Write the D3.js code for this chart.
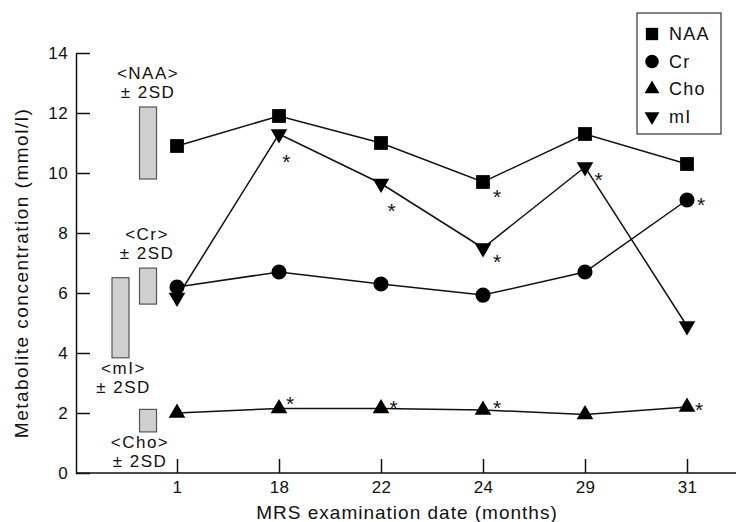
<!DOCTYPE html>
<html>
<head>
<meta charset="utf-8">
<script src="https://cdn.jsdelivr.net/npm/d3@7"></script>
<style>
  body { margin: 0; background: #fff; }
  svg { display: block; font-family: "Liberation Sans", Arial, Helvetica, sans-serif; }
</style>
</head>
<body>
<script>
// data
const months = ["1", "18", "22", "24", "29", "31"];
const naa = [10.9, 11.9, 11.0, 9.7, 11.3, 10.3];
const cr = [6.2, 6.7, 6.3, 5.93, 6.7, 9.1];
const cho = [2.0, 2.15, 2.15, 2.1, 1.95, 2.2];
const mi = [5.85, 11.3, 9.65, 7.5, 10.2, 4.9];
// significant points (asterisk)
const naaSig = [0, 0, 0, 1, 0, 0];
const crSig = [0, 0, 0, 0, 0, 1];
const choSig = [0, 1, 1, 1, 0, 1];
const miSig = [0, 1, 1, 1, 1, 0];
// normal ranges, mean +/- 2SD
const refNames = ["NAA", "Cr", "mI", "Cho"];
const refLow = [9.8, 5.63, 3.84, 1.37];
const refHigh = [12.2, 6.83, 6.51, 2.12];
const yTicks = [0, 2, 4, 6, 8, 10, 12, 14];

const W = 736, H = 522;
const svg = d3.select("body").append("svg").attr("width", W).attr("height", H);

const x = d3.scalePoint().domain(months).range([177, 687]);
const y = d3.scaleLinear().domain([0, 14]).range([473, 53]);
const step = x.step();
const ink = "#111";

// y axis, ticks pointing inward
const yAxis = svg.append("g")
  .attr("transform", "translate(76,0)")
  .call(d3.axisLeft(y).tickValues(yTicks).tickSizeInner(-14).tickSizeOuter(0).tickPadding(8));
yAxis.select(".domain").attr("stroke", ink).attr("stroke-width", 1.5);
yAxis.selectAll(".tick line").attr("stroke", ink).attr("stroke-width", 1.5);
yAxis.selectAll(".tick text").attr("font-size", 17).attr("letter-spacing", 0.4)
  .attr("font-family", null).attr("fill", ink);

// x axis
const xAxis = svg.append("g")
  .attr("transform", `translate(0,${y(0)})`)
  .call(d3.axisBottom(x).tickSizeInner(-14).tickSizeOuter(0).tickPadding(20));
xAxis.select(".domain").remove();
xAxis.append("line").attr("x1", 76).attr("x2", 736).attr("stroke", ink).attr("stroke-width", 1.5);
xAxis.selectAll(".tick line").attr("stroke", ink).attr("stroke-width", 1.5);
xAxis.selectAll(".tick text").attr("font-size", 17).attr("letter-spacing", 0.4)
  .attr("font-family", null).attr("fill", ink).attr("dy", "0");

// axis titles
svg.append("text")
  .attr("x", 407).attr("y", 519)
  .attr("text-anchor", "middle").attr("font-size", 19).attr("letter-spacing", 1)
  .attr("fill", ink)
  .text("MRS examination date (months)");
svg.append("text")
  .attr("transform", "translate(28,273) rotate(-90)")
  .attr("text-anchor", "middle").attr("font-size", 19).attr("letter-spacing", 1.5)
  .attr("fill", ink)
  .text("Metabolite concentration (mmol/l)");

// normal range boxes (position in category steps left of month 1)
const boxPos = [-0.284, -0.284, -0.554, -0.284];
const labelAbove = [true, true, false, false];
const labelShift = [0, -1, 3, -8];
const boxW = 17;
refNames.forEach((name, i) => {
  const cx = x(months[0]) + boxPos[i] * step;
  const top = y(refHigh[i]), bot = y(refLow[i]);
  svg.append("rect")
    .attr("x", cx - boxW / 2).attr("y", top)
    .attr("width", boxW).attr("height", bot - top)
    .attr("fill", "#d0d0d0").attr("stroke", "#555").attr("stroke-width", 1.2);
  const lx = cx + labelShift[i];
  const b1 = labelAbove[i] ? top - 28 : bot + 16;
  const g = svg.append("g").attr("font-size", 17).attr("letter-spacing", 1.5)
    .attr("text-anchor", "middle").attr("fill", ink);
  g.append("text").attr("x", lx).attr("y", b1).text(`<${name}>`);
  g.append("text").attr("x", lx).attr("y", b1 + 19).text("\u00b1 2SD");
});

// series
const series = [
  { name: "NAA", values: naa, sig: naaSig, symbol: d3.symbolSquare, size: 190, rot: 0 },
  { name: "Cr", values: cr, sig: crSig, symbol: d3.symbolCircle, size: 180, rot: 0 },
  { name: "Cho", values: cho, sig: choSig, symbol: d3.symbolTriangle, size: 120, rot: 0 },
  { name: "mI", values: mi, sig: miSig, symbol: d3.symbolTriangle, size: 120, rot: 180 },
];
// asterisk offsets from the marker, per series and point
const astOff = {
  NAA: [[14, 10], [14, 10], [14, 10], [14, 10], [14, 10], [14, 10]],
  Cr: [[14, 0], [14, 0], [14, 0], [14, 0], [14, 0], [14, 0]],
  Cho: [[12, -8], [11, -10], [12.6, -6], [14, -7], [12, -6], [12, -2]],
  mI: [[10, 20], [7.4, 22.5], [10.6, 22], [14, 9], [13.6, 8], [14, 8]],
};

const line = d3.line().x((d, i) => x(months[i])).y(d => y(d));
series.forEach(s => {
  svg.append("path").datum(s.values)
    .attr("d", line).attr("fill", "none").attr("stroke", ink).attr("stroke-width", 1.5);
});
series.forEach(s => {
  svg.append("g").selectAll("path").data(s.values).join("path")
    .attr("transform", (d, i) => `translate(${x(months[i])},${y(d)}) rotate(${s.rot})`)
    .attr("d", d3.symbol(s.symbol, s.size))
    .attr("fill", "#000");
  svg.append("g").selectAll("text")
    .data(s.values.map((v, i) => ({ v, i })).filter(d => s.sig[d.i]))
    .join("text")
    .attr("x", d => x(months[d.i]) + astOff[s.name][d.i][0])
    .attr("y", d => y(d.v) + astOff[s.name][d.i][1] + 12)
    .attr("text-anchor", "middle").attr("font-size", 21).attr("fill", ink)
    .text("*");
});

// legend
const leg = svg.append("g").attr("transform", "translate(637,13)");
leg.append("rect").attr("width", 84).attr("height", 121)
  .attr("fill", "#fff").attr("stroke", "#333").attr("stroke-width", 1.2);
series.forEach((s, i) => {
  const ly = 21 + i * 27.5;
  leg.append("path")
    .attr("transform", `translate(15,${ly}) rotate(${s.rot})`)
    .attr("d", d3.symbol(s.symbol, s.size * 0.8))
    .attr("fill", "#000");
  leg.append("text").attr("x", 32).attr("y", ly).attr("dy", "0.36em")
    .attr("font-size", 18).attr("letter-spacing", 1.2).attr("fill", ink)
    .text(s.name);
});
</script>
</body>
</html>
